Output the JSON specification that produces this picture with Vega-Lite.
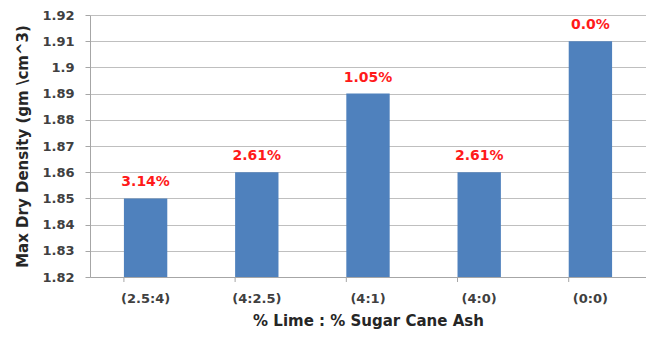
{
  "$schema": "https://vega.github.io/schema/vega-lite/v6.json",
  "width": 556,
  "height": 262,
  "autosize": {"type": "none"},
  "padding": {"left": 90, "top": 15, "right": 0, "bottom": 63},
  "background": "white",
  "config": {
    "font": "DejaVu Sans",
    "view": {"stroke": null}
  },
  "data": {
    "values": [
      {"ratio": "(2.5:4)", "density": 1.85, "change": "3.14%"},
      {"ratio": "(4:2.5)", "density": 1.86, "change": "2.61%"},
      {"ratio": "(4:1)", "density": 1.89, "change": "1.05%"},
      {"ratio": "(4:0)", "density": 1.86, "change": "2.61%"},
      {"ratio": "(0:0)", "density": 1.91, "change": "0.0%"}
    ]
  },
  "encoding": {
    "x": {
      "field": "ratio",
      "type": "nominal",
      "sort": null,
      "scale": {"paddingInner": 0.61, "paddingOuter": 0.305},
      "axis": {
        "orient": "bottom",
        "title": "% Lime : % Sugar Cane Ash",
        "labelAngle": 0,
        "ticks": false,
        "domainColor": "#A6A6A6",
        "domainWidth": 1,
        "labelPadding": 15,
        "labelFontSize": 13,
        "labelFontWeight": "bold",
        "labelColor": "#404040",
        "titleFontSize": 15,
        "titleFontWeight": "bold",
        "titleColor": "#262626",
        "titlePadding": 8
      }
    },
    "y": {
      "field": "density",
      "type": "quantitative",
      "scale": {"domain": [1.82, 1.92], "zero": false, "nice": false},
      "axis": {
        "title": "Max Dry Density (gm \\cm^3)",
        "values": [1.82, 1.83, 1.84, 1.85, 1.86, 1.87, 1.88, 1.89, 1.9, 1.91, 1.92],
        "format": ".2~f",
        "labelOverlap": false,
        "grid": true,
        "gridColor": "#BFBFBF",
        "gridWidth": 1,
        "domainColor": "#A6A6A6",
        "tickColor": "#A6A6A6",
        "tickSize": 5,
        "labelPadding": 11,
        "labelFontSize": 13,
        "labelFontWeight": "bold",
        "labelColor": "#404040",
        "titleFontSize": 15,
        "titleFontWeight": "bold",
        "titleColor": "#262626",
        "titlePadding": 11
      }
    }
  },
  "layer": [
    {
      "mark": {"type": "bar", "color": "#4F81BD"},
      "encoding": {
        "y2": {"datum": 1.82}
      }
    },
    {
      "mark": {
        "type": "text",
        "color": "#FF1A1A",
        "fontWeight": "bold",
        "fontSize": 14,
        "baseline": "alphabetic",
        "dy": -12
      },
      "encoding": {
        "text": {"field": "change"}
      }
    },
    {
      "mark": {"type": "rule", "color": "#A6A6A6", "strokeWidth": 1, "y2Offset": 5},
      "encoding": {
        "x": {
          "field": "ratio",
          "type": "nominal",
          "sort": null,
          "bandPosition": 0,
          "scale": {"paddingInner": 0.61, "paddingOuter": 0.305},
          "axis": {
            "orient": "bottom",
            "title": "% Lime : % Sugar Cane Ash",
            "labelAngle": 0,
            "ticks": false,
            "domainColor": "#A6A6A6",
            "domainWidth": 1,
            "labelPadding": 15,
            "labelFontSize": 13,
            "labelFontWeight": "bold",
            "labelColor": "#404040",
            "titleFontSize": 15,
            "titleFontWeight": "bold",
            "titleColor": "#262626",
            "titlePadding": 8
          }
        },
        "y": {
          "datum": 1.82,
          "type": "quantitative",
          "scale": {"domain": [1.82, 1.92], "zero": false, "nice": false},
          "axis": {
            "title": "Max Dry Density (gm \\cm^3)",
            "values": [1.82, 1.83, 1.84, 1.85, 1.86, 1.87, 1.88, 1.89, 1.9, 1.91, 1.92],
            "format": ".2~f",
            "labelOverlap": false,
            "grid": true,
            "gridColor": "#BFBFBF",
            "gridWidth": 1,
            "domainColor": "#A6A6A6",
            "tickColor": "#A6A6A6",
            "tickSize": 5,
            "labelPadding": 11,
            "labelFontSize": 13,
            "labelFontWeight": "bold",
            "labelColor": "#404040",
            "titleFontSize": 15,
            "titleFontWeight": "bold",
            "titleColor": "#262626",
            "titlePadding": 11
          }
        },
        "y2": {"datum": 1.82}
      }
    }
  ]
}
